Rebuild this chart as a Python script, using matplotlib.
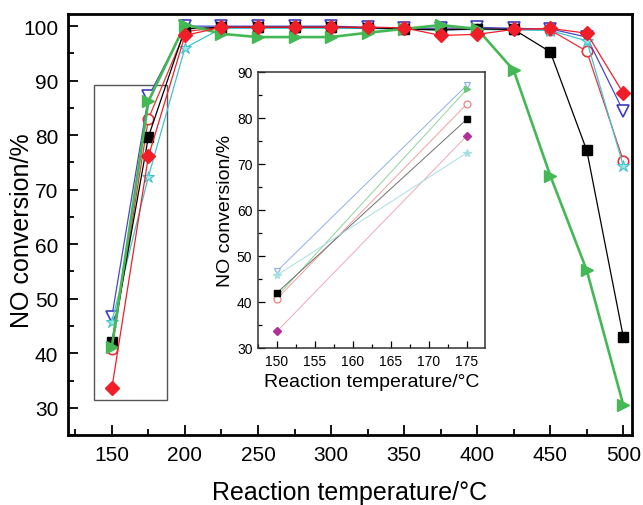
import matplotlib
matplotlib.use("Agg")
import matplotlib.pyplot as plt
from matplotlib.patches import Rectangle
from matplotlib.ticker import MultipleLocator

plt.rcParams['font.family'] = ['Liberation Sans', 'DejaVu Sans']

temps = [150, 175, 200, 225, 250, 275, 300, 325, 350, 375, 400, 425, 450, 475, 500]
black_sq = [42.0, 79.7, 99.5, 99.8, 99.8, 99.8, 99.8, 99.7, 99.5, 99.3, 99.5, 99.4, 95.3, 77.2, 43.0]
red_circ = [40.7, 83.0, 99.0, 99.8, 99.8, 99.8, 99.8, 99.7, 99.5, 99.5, 99.5, 99.5, 99.3, 95.4, 75.3]
red_diam = [33.6, 76.1, 98.3, 99.8, 99.8, 99.8, 99.8, 99.8, 99.7, 98.3, 98.5, 99.4, 99.6, 98.7, 87.7]
blue_tri = [46.7, 87.1, 100.0, 100.0, 100.0, 100.0, 100.0, 99.8, 99.7, 99.6, 99.8, 99.6, 99.5, 98.0, 84.4]
green_tri = [41.2, 86.2, 100.3, 98.6, 98.0, 98.0, 98.0, 98.8, 99.5, 100.2, 99.5, 91.9, 72.6, 55.2, 30.5]
cyan_star = [45.8, 72.4, 96.0, 99.6, 99.6, 99.6, 99.6, 99.6, 99.4, 99.3, 99.4, 99.3, 99.2, 97.3, 74.4]

main_xticks = [150, 200, 250, 300, 350, 400, 450, 500]
main_yticks = [30, 40, 50, 60, 70, 80, 90, 100]
inset_xticks = [150, 155, 160, 165, 170, 175]
inset_yticks = [30, 40, 50, 60, 70, 80, 90]
n_inset = 2  # first two temperatures shown in inset

fig = plt.figure(figsize=(6.43, 5.06), dpi=100)
ax = fig.add_axes([0.1058, 0.1383, 0.8772, 0.8317])

ax.plot(temps, black_sq, '-', color='black', lw=0.9, marker='s', ms=7.5,
        mfc='black', mec='black', zorder=5)
ax.plot(temps, red_circ, '-', color='#e8323c', lw=0.9, marker='o', ms=7.5,
        mfc='white', mec='#e8323c', mew=1.2, zorder=4)
ax.plot(temps, red_diam, '-', color='#f01e28', lw=0.9, marker='D', ms=7,
        mfc='#f01e28', mec='#f01e28', zorder=6)
ax.plot(temps, blue_tri, '-', color='#4848c8', lw=0.9, marker='v', ms=9,
        mfc='white', mec='#3c3cc0', mew=1.2, zorder=4)
ax.plot(temps, green_tri, '-', color='#44b855', lw=1.9, marker='>', ms=9,
        mfc='#44b855', mec='#44b855', zorder=5)
ax.plot(temps, cyan_star, '-', color='#40c4cc', lw=0.9, marker='*', ms=9,
        mfc='#9fe3e6', mec='#40c4cc', mew=0.8, zorder=4)

ax.add_patch(Rectangle((138, 31.5), 50, 57.7, fill=False, ec='#555555', lw=1.0, zorder=3))

ax.set_xlim(120, 506)
ax.set_ylim(25, 102.2)
ax.set_xticks(main_xticks)
ax.set_yticks(main_yticks)
ax.xaxis.set_minor_locator(MultipleLocator(25))
ax.yaxis.set_minor_locator(MultipleLocator(5))
ax.tick_params(which='both', direction='in', top=False, right=False, width=1.3,
               labelsize=15, pad=7)
ax.tick_params(which='major', length=7)
ax.tick_params(which='minor', length=4)
for s in ax.spines.values():
    s.set_linewidth(2.0)
ax.set_xlabel('Reaction temperature/\u00b0C', fontsize=18, labelpad=12)
ax.set_ylabel('NO conversion/%', fontsize=18, va='center')
ax.yaxis.set_label_coords(-0.081, 0.487)

# inset
ins = fig.add_axes([0.4012, 0.3103, 0.3530, 0.5455])
ins.plot(temps[:n_inset], blue_tri[:n_inset], '-', color='#8fb0e8', lw=0.7, marker='v',
         ms=5, mfc='white', mec='#8fb0e8', mew=0.9)
ins.plot(temps[:n_inset], green_tri[:n_inset], '-', color='#8fd39a', lw=0.7, marker='>',
         ms=5, mfc='#6cc87c', mec='#6cc87c')
ins.plot(temps[:n_inset], red_circ[:n_inset], '-', color='#f0a0a0', lw=0.7, marker='o',
         ms=5, mfc='white', mec='#f08080', mew=0.9)
ins.plot(temps[:n_inset], black_sq[:n_inset], '-', color='#707070', lw=0.7, marker='s',
         ms=4.5, mfc='black', mec='black')
ins.plot(temps[:n_inset], red_diam[:n_inset], '-', color='#f0a8b8', lw=0.7, marker='D',
         ms=4.5, mfc='#b0309a', mec='#b0309a')
ins.plot(temps[:n_inset], cyan_star[:n_inset], '-', color='#a6dfe2', lw=0.7, marker='*',
         ms=5.5, mfc='#a6dfe2', mec='#a6dfe2')
ins.set_xlim(147.5, 177.4)
ins.set_ylim(30, 90)
ins.set_xticks(inset_xticks)
ins.set_yticks(inset_yticks)
ins.xaxis.set_minor_locator(MultipleLocator(2.5))
ins.yaxis.set_minor_locator(MultipleLocator(5))
ins.tick_params(which='both', direction='in', top=False, right=False, labelsize=10,
                width=0.9, pad=4)
ins.tick_params(which='major', length=5)
ins.tick_params(which='minor', length=3)
for s in ins.spines.values():
    s.set_linewidth(1.1)
    s.set_color('#333333')
ins.set_xlabel('Reaction temperature/\u00b0C', fontsize=14, labelpad=4)
ins.set_ylabel('NO conversion/%', fontsize=14, labelpad=2)

fig.savefig('out.png', dpi=100)
